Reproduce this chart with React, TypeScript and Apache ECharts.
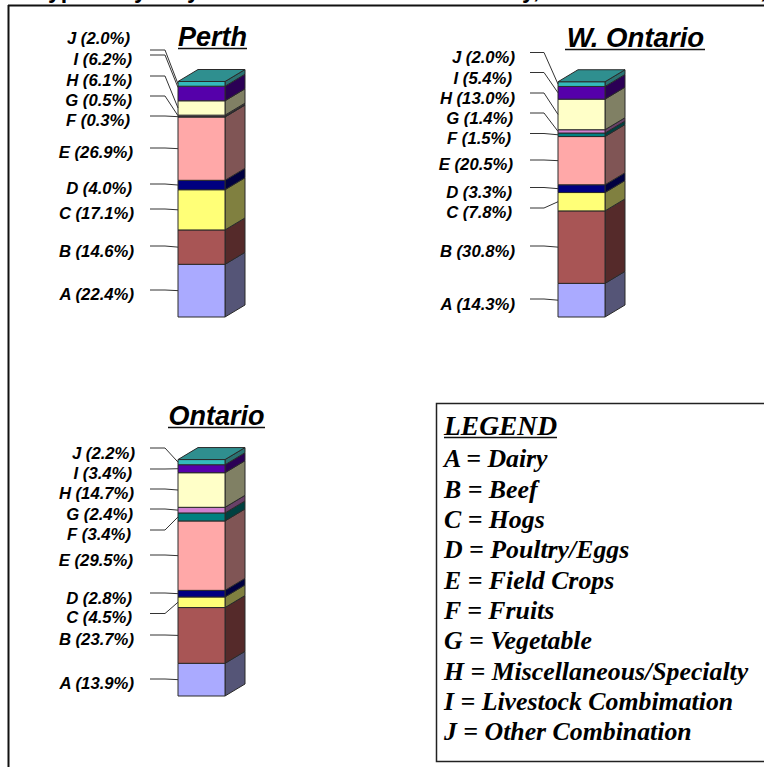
import React, { useEffect, useRef } from "react";
import * as echarts from "echarts";

const categories = ["A", "B", "C", "D", "E", "F", "G", "H", "I", "J"];
const perthValues = [22.4, 14.6, 17.1, 4.0, 26.9, 0.3, 0.5, 6.1, 6.2, 2.0];
const westOntarioValues = [14.3, 30.8, 7.8, 3.3, 20.5, 1.5, 1.4, 13.0, 5.4, 2.0];
const ontarioValues = [13.9, 23.7, 4.5, 2.8, 29.5, 3.4, 2.4, 14.7, 3.4, 2.2];
const panelNames = ["Perth", "W. Ontario", "Ontario"];
const legendTitle = "LEGEND";
const legendNames = [
  "Dairy",
  "Beef",
  "Hogs",
  "Poultry/Eggs",
  "Field Crops",
  "Fruits",
  "Vegetable",
  "Miscellaneous/Specialty",
  "Livestock Combimation",
  "Other Combination",
];

const frontColors = ["#AAAAFF", "#A85555", "#FFFF77", "#000080", "#FFA8A8", "#008080", "#D080D0", "#FFFFC8", "#5500AA", "#33BBBB"];
const sideColors = ["#555577", "#552A2A", "#808040", "#000040", "#805555", "#004040", "#684068", "#808064", "#2B0055", "#2A7272"];
const topColor = "#2F8F8F";

const perthLeaderY = [290, 246, 209, 184, 148, 116, 96, 76, 55, 50];
const westLeaderY = [299, 246, 208, 187.5, 160, 133.5, 113, 93, 72.5, 52.5];
const ontarioLeaderY = [679, 635, 613.5, 593, 555, 530, 509, 489, 469, 448];
const perthLabelY = [294, 251, 213, 188, 152, 120, 100, 80, 59, 38];
const westLabelY = [304, 251, 212, 192, 164, 138, 118, 98, 78, 57];
const ontarioLabelY = [683, 639, 617, 598, 560, 534, 514, 493, 473, 453];
const perthLabelRight = [134, 134, 134, 132, 133, 130, 132, 132, 132, 130];
const westLabelRight = [515, 515, 512, 512, 513, 511, 513, 515, 512, 515];
const ontarioLabelRight = [134, 134, 132, 132, 133, 131, 133, 134, 132, 135];
const perthLeaderEndShift = [0, 0, 0, 0, 0, 0, 0, 0, -6, 0];
const noShift = [0, 0, 0, 0, 0, 0, 0, 0, 0, 0];

const LABEL_FONT = 'italic bold 16.7px "Liberation Sans", Arial, sans-serif';
const LEGEND_SIZE = 25.8;
const LEGEND_HEAD_SIZE = 27.5;
const CROPPED_SIZE = 23;
const titleFont = (size: number) => `italic bold ${size}px "Liberation Sans", Arial, sans-serif`;
const LEGEND_FONT = `italic bold ${LEGEND_SIZE}px "Liberation Serif", "Times New Roman", serif`;
const LEGEND_HEAD_FONT = `italic bold ${LEGEND_HEAD_SIZE}px "Liberation Serif", "Times New Roman", serif`;
const CROPPED_FONT = `bold ${CROPPED_SIZE}px "Liberation Sans", Arial, sans-serif`;
const ASCENT = 0.89;

const DX = 20;
const DY = 12;

function stackedRows(values: number[]) {
  let sum = 0;
  return values.map((v, i) => {
    const row = [0, sum, sum + v, i];
    sum += v;
    return row;
  });
}

function barSeries(
  index: number,
  values: number[],
  leaderY: number[],
  labelY: number[],
  endShift: number[],
  labelRight: number[],
  leaderLeft: number,
  leaderElbow: number
) {
  return {
    type: "custom",
    xAxisIndex: index,
    yAxisIndex: index,
    silent: true,
    clip: false,
    data: stackedRows(values),
    encode: { x: 0, y: [1, 2] },
    renderItem: (_p: any, api: any) => {
      const start = api.value(1);
      const end = api.value(2);
      const i = api.value(3);
      const w = api.size([1, 0])[0];
      const bottom = api.coord([0, start]);
      const top = api.coord([0, end]);
      const mid = api.coord([0, (start + end) / 2]);
      const xl = bottom[0] - w / 2;
      const xr = bottom[0] + w / 2;
      const y0 = bottom[1];
      const y1 = top[1];
      const edge = { stroke: "#2a2a2a", lineWidth: 1 };
      const children: any[] = [
        {
          type: "polygon",
          shape: { points: [[xr, y1], [xr + DX, y1 - DY], [xr + DX, y0 - DY], [xr, y0]] },
          style: { fill: sideColors[i], ...edge },
        },
        {
          type: "polygon",
          shape: { points: [[xl, y0], [xr, y0], [xr, y1], [xl, y1]] },
          style: { fill: frontColors[i], ...edge },
        },
      ];
      if (i === categories.length - 1) {
        children.push({
          type: "polygon",
          shape: { points: [[xl, y1], [xl + DX, y1 - DY], [xr + DX, y1 - DY], [xr, y1]] },
          style: { fill: topColor, ...edge },
        });
      }
      children.push({
        type: "polyline",
        shape: {
          points: [
            [leaderLeft, leaderY[i]],
            [leaderElbow, leaderY[i]],
            [xl, mid[1] + endShift[i]],
          ],
        },
        style: { fill: "none", stroke: "#333333", lineWidth: 1 },
      });
      children.push({
        type: "text",
        style: {
          text: `${categories[i]} (${values[i].toFixed(1)}%)`,
          x: labelRight[i],
          y: labelY[i],
          font: LABEL_FONT,
          fill: "#000000",
          align: "right",
          verticalAlign: "middle",
        },
      });
      return { type: "group", children };
    },
  };
}

const grids = [
  { left: 178, top: 81.5, width: 47, height: 235.5 },
  { left: 558, top: 81.5, width: 47, height: 235.5 },
  { left: 178, top: 460.5, width: 47, height: 235.5 },
];

const panelTitles = [
  { x: 212.5, y: 48, size: 27, ux: [178, 247], uy: 48.5 },
  { x: 635.5, y: 48, size: 27.6, ux: [565, 705], uy: 49.5 },
  { x: 216.5, y: 426.5, size: 27, ux: [168, 265], uy: 427.5 },
];

const croppedGlyphs = [
  { text: "yp", x: 48 },
  { text: "y", x: 134 },
  { text: "y", x: 187 },
  { text: "y,", x: 522 },
  { text: ",", x: 760 },
];

function baselineText(text: string, x: number, baseline: number, font: string, size: number, align = "left") {
  return {
    type: "text",
    silent: true,
    style: { text, x, y: baseline - ASCENT * size, font, fill: "#000000", align, verticalAlign: "top" },
  };
}

function buildGraphic() {
  const els: any[] = [];
  const line = (x1: number, y1: number, x2: number, y2: number, lw: number) => ({
    type: "line",
    silent: true,
    shape: { x1, y1, x2, y2 },
    style: { stroke: "#111111", lineWidth: lw },
  });
  croppedGlyphs.forEach((g) => els.push(baselineText(g.text, g.x, -1.5, CROPPED_FONT, CROPPED_SIZE)));
  els.push(line(8, 5.5, 764, 5.5, 2), line(8.5, 5, 8.5, 767, 2));
  panelTitles.forEach((t, i) => {
    els.push(baselineText(panelNames[i], t.x, t.y, titleFont(t.size), t.size, "center"));
    els.push(line(t.ux[0], t.uy, t.ux[1], t.uy, 1.5));
  });
  els.push({
    type: "rect",
    silent: true,
    shape: { x: 436.5, y: 403.5, width: 340, height: 358 },
    style: { fill: "#ffffff", stroke: "#222222", lineWidth: 1.5 },
  });
  els.push(baselineText(legendTitle, 444, 436, LEGEND_HEAD_FONT, LEGEND_HEAD_SIZE));
  els.push(line(444, 437.5, 557, 437.5, 1.5));
  legendNames.forEach((n, i) => {
    els.push(baselineText(`${categories[i]} = ${n}`, 444, 468.8 + i * 30.35, LEGEND_FONT, LEGEND_SIZE));
  });
  return els;
}

export default function App() {
  const ref = useRef<HTMLDivElement>(null);
  useEffect(() => {
    document.body.style.margin = "0";
    document.body.style.overflow = "hidden";
    const chart = echarts.init(ref.current!, undefined, { renderer: "svg" });
    chart.setOption({
      animation: false,
      backgroundColor: "#ffffff",
      tooltip: { show: false },
      grid: grids,
      xAxis: grids.map((_, i) => ({ type: "category", gridIndex: i, show: false, data: [panelNames[i]] })),
      yAxis: grids.map((_, i) => ({ type: "value", gridIndex: i, show: false, min: 0, max: 100.1 })),
      series: [
        barSeries(0, perthValues, perthLeaderY, perthLabelY, perthLeaderEndShift, perthLabelRight, 150, 165),
        barSeries(1, westOntarioValues, westLeaderY, westLabelY, noShift, westLabelRight, 530, 544),
        barSeries(2, ontarioValues, ontarioLeaderY, ontarioLabelY, noShift, ontarioLabelRight, 150, 165),
      ],
      graphic: { elements: buildGraphic() },
    });
    return () => chart.dispose();
  }, []);
  return <div ref={ref} style={{ position: "absolute", left: 0, top: 0, width: 764, height: 767 }} />;
}
